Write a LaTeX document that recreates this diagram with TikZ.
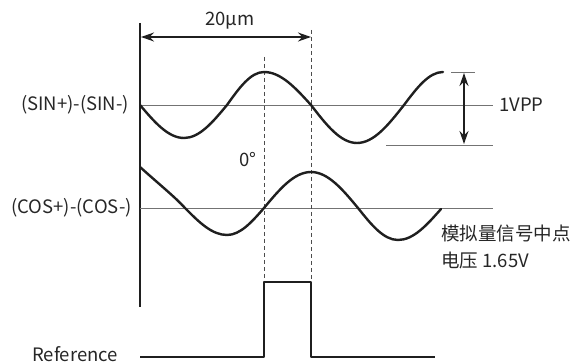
\documentclass[tikz,border=0pt]{standalone}
\usepackage{fontspec}
\setmainfont{Noto Sans CJK SC}
\usetikzlibrary{arrows.meta}
\begin{document}
\begin{tikzpicture}[x=1pt,y=-1pt,
  wave/.style={line width=2.4pt,draw=black!88,line cap=round,line join=round},
  axisline/.style={line width=0.9pt,draw=black!55},
  guide/.style={line width=0.9pt,draw=black!70,dash pattern=on 4pt off 3pt},
  dimarrow/.style={line width=1.4pt,draw=black!88,{Stealth[length=13pt,width=9pt]}-{Stealth[length=13pt,width=9pt]}},
  lbl/.style={inner sep=0pt,font=\fontsize{18.5}{22}\selectfont,text=black!85}]
\useasboundingbox (0,0) rectangle (574,363);
% vertical axis
\coordinate (axT) at (140,23);
\coordinate (axB) at (140,307);
\draw[line width=2.6pt,draw=black!88] (axT) -- (axB);
% zero lines
\coordinate (s0) at (140,105);  \coordinate (s1) at (493,105);
\coordinate (c0) at (140,208);  \coordinate (c1) at (493,208);
\draw[axisline] (s0) -- (s1);
\draw[axisline] (c0) -- (c1);
% guides
\coordinate (g1t) at (264,57);  \coordinate (g1b) at (264,282);
\coordinate (g2t) at (311,30);  \coordinate (g2b) at (311,282);
\draw[guide] (g1t) -- (g1b);
\draw[guide] (g2t) -- (g2b);
% 20um dimension
\coordinate (d0) at (141,37); \coordinate (d1) at (311,37);
\draw[dimarrow] (d0) -- (d1);
\node[lbl] (t20) at (230,21) {20μm};
% sine wave
\draw[wave] (140,105) sin (184,138) cos (227,105) sin (264,72) cos (311,105)
  sin (357,143) cos (404,105) sin (443,72);
% cosine wave
\draw[wave] (140,167) .. controls (160,185) and (175,197) .. (185,208)
  sin (227,235) cos (264,208) sin (311,172) cos (358,208) sin (398,240) cos (441,209);
% 1VPP
\coordinate (vt0) at (451,72); \coordinate (vt1) at (475,72);
\coordinate (vb0) at (386,145); \coordinate (vb1) at (493,145);
\draw[axisline] (vt0) -- (vt1);
\draw[axisline] (vb0) -- (vb1);
\coordinate (va0) at (464,73); \coordinate (va1) at (464,144);
\draw[dimarrow] (va0) -- (va1);
\node[lbl,anchor=west] (tvpp) at (499,105) {1VPP};
% reference pulse
\draw[wave,line cap=butt] (140,357) -- (264,357) -- (264,282) -- (311,282) -- (311,357) -- (435,357);
% labels
\node[lbl,anchor=east] (tsin) at (129,105) {(SIN+)-(SIN-)};
\node[lbl,anchor=east] (tcos) at (132,208) {(COS+)-(COS-)};
\node[lbl,anchor=base east] (tref) at (118,361.5) {Reference};
\node[lbl] (tdeg) at (248,160) {0°};
\node[lbl,anchor=west] (tcn1) at (441,234) {模拟量信号中点};
\node[lbl,anchor=west] (tcn2) at (441,260) {电压 1.65V};
\end{tikzpicture}
\end{document}
